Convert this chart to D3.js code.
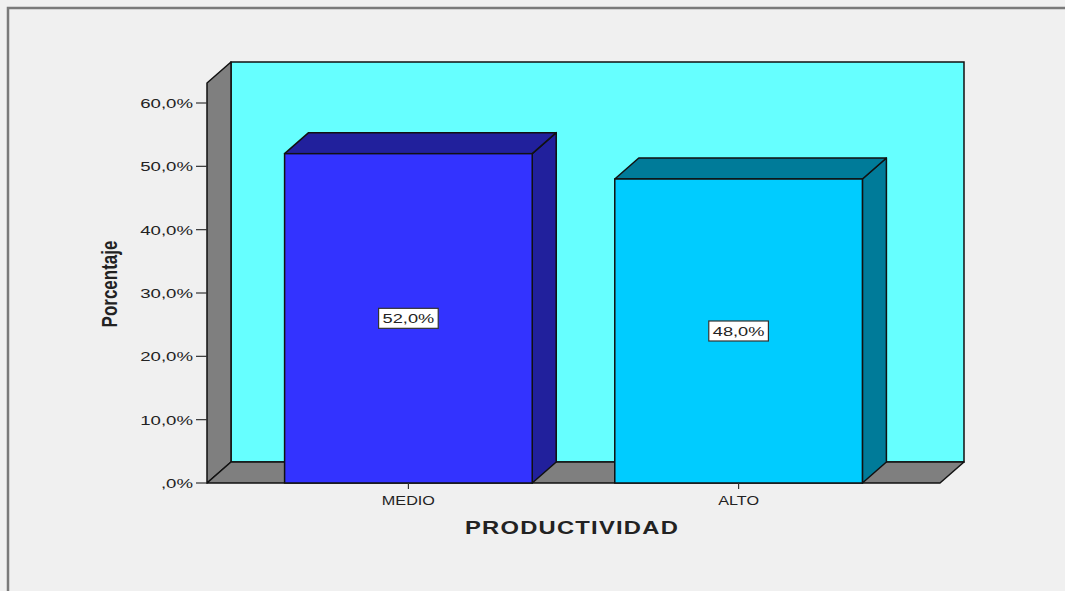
<!DOCTYPE html>
<html>
<head>
<meta charset="utf-8">
<script src="https://cdn.jsdelivr.net/npm/d3@7"></script>
<style>
  html, body { margin: 0; padding: 0; background: #f0f0f0; }
  svg { display: block; }
  text { font-family: "Liberation Sans", Arial, sans-serif; fill: #222; }
</style>
</head>
<body>
<svg id="chart" width="1065" height="591"></svg>
<script>
// Data
const categories = ["MEDIO", "ALTO"];
const percentages = [52.0, 48.0];
const yTicks = [0, 10, 20, 30, 40, 50, 60];
const valueLabels = ["52,0%", "48,0%"];
const tickLabels = [",0%", "10,0%", "20,0%", "30,0%", "40,0%", "50,0%", "60,0%"];

// Colours
const frontColors = ["#3333ff", "#00ccff"];
const sideColors = ["#21209c", "#007b99"];
const wallColor = "#66ffff";
const greyWall = "#7f7f7f";
const edge = "#111";

// Layout
const W = 1065, H = 591;
const x0 = 207, x1 = 940;          // front plane, horizontal extent
const yBase = 483, y60 = 103;      // pixel of 0% and 60%
const wallTop = 83;                // top of the side wall on the front plane
const dx = 24, dy = 21;            // depth offset
const stretch = 1.38;              // horizontal glyph stretch of tick labels

const svg = d3.select("#chart");

svg.append("rect").attr("width", W).attr("height", H).attr("fill", "#f0f0f0");

// frame lines (top and left)
svg.append("path")
  .attr("d", `M8,${H} L8,8 L${W},8`)
  .attr("fill", "none").attr("stroke", "#7a7a7a").attr("stroke-width", 2.5);

const y = d3.scaleLinear().domain([0, 60]).range([yBase, y60]);
const x = d3.scaleBand().domain(categories).range([x0, x1])
  .paddingInner(0.25).paddingOuter(0.235);

const poly = pts => "M" + pts.map(p => p.join(",")).join("L") + "Z";

// back wall
svg.append("rect")
  .attr("x", x0 + dx).attr("y", wallTop - dy)
  .attr("width", x1 - x0).attr("height", yBase - wallTop)
  .attr("fill", wallColor).attr("stroke", edge).attr("stroke-width", 1.5);

// left side wall
svg.append("path")
  .attr("d", poly([[x0, yBase], [x0, wallTop], [x0 + dx, wallTop - dy], [x0 + dx, yBase - dy]]))
  .attr("fill", greyWall).attr("stroke", edge).attr("stroke-width", 1.5)
  .attr("stroke-linejoin", "round");

// floor
svg.append("path")
  .attr("d", poly([[x0, yBase], [x1, yBase], [x1 + dx, yBase - dy], [x0 + dx, yBase - dy]]))
  .attr("fill", greyWall).attr("stroke", edge).attr("stroke-width", 1.5)
  .attr("stroke-linejoin", "round");

// bars
const bars = svg.append("g").selectAll("g").data(categories).join("g");
bars.each(function(c, i) {
  const g = d3.select(this);
  const bx = x(c), bw = x.bandwidth(), top = y(percentages[i]);
  // side
  g.append("path")
    .attr("d", poly([[bx + bw, yBase], [bx + bw, top], [bx + bw + dx, top - dy], [bx + bw + dx, yBase - dy]]))
    .attr("fill", sideColors[i]).attr("stroke", edge).attr("stroke-width", 1.5).attr("stroke-linejoin", "round");
  // top
  g.append("path")
    .attr("d", poly([[bx, top], [bx + dx, top - dy], [bx + bw + dx, top - dy], [bx + bw, top]]))
    .attr("fill", sideColors[i]).attr("stroke", edge).attr("stroke-width", 1.5).attr("stroke-linejoin", "round");
  // front
  g.append("rect")
    .attr("x", bx).attr("y", top).attr("width", bw).attr("height", yBase - top)
    .attr("fill", frontColors[i]).attr("stroke", edge).attr("stroke-width", 1.5);
});

// text with horizontally stretched glyphs
function stretchedText(parent, tx, ty, str, anchor, size, weight, sx) {
  return parent.append("text")
    .attr("transform", `translate(${tx},${ty}) scale(${sx},1)`)
    .attr("text-anchor", anchor)
    .attr("font-size", size)
    .attr("font-weight", weight || "normal")
    .text(str);
}

// value labels inside bars
const labels = svg.append("g");
categories.forEach((c, i) => {
  const cx = x(c) + x.bandwidth() / 2;
  const cy = y(percentages[i] / 2);
  const g = labels.append("g");
  const sx = 1.35;
  const t = stretchedText(g, cx, cy + 5, valueLabels[i], "middle", 13.5, "normal", sx);
  const w = t.node().getComputedTextLength() * sx + 8;
  g.insert("rect", "text")
    .attr("x", cx - w / 2).attr("y", cy - 10)
    .attr("width", w).attr("height", 20)
    .attr("fill", "#fff").attr("stroke", "#333").attr("stroke-width", 1.2);
});

// y axis ticks and labels
const yAxis = svg.append("g");
yTicks.forEach((v, i) => {
  yAxis.append("line")
    .attr("x1", x0 - 11).attr("x2", x0).attr("y1", y(v)).attr("y2", y(v))
    .attr("stroke", "#333").attr("stroke-width", 1.2);
  stretchedText(yAxis, x0 - 14, y(v) + 5, tickLabels[i], "end", 13.5, "normal", stretch);
});

// x axis ticks and labels
const xAxis = svg.append("g");
categories.forEach(c => {
  const cx = x(c) + x.bandwidth() / 2;
  xAxis.append("line")
    .attr("x1", cx).attr("x2", cx).attr("y1", yBase).attr("y2", yBase + 6)
    .attr("stroke", "#333").attr("stroke-width", 1.2);
  stretchedText(xAxis, cx, yBase + 22, c, "middle", 13.5, "normal", 1.2);
});

// axis titles
svg.append("text")
  .attr("transform", `translate(117,284) rotate(-90) scale(1,1.3)`)
  .attr("text-anchor", "middle")
  .attr("font-family", "'Liberation Sans Narrow', 'Liberation Sans', Arial, sans-serif")
  .attr("font-size", 17).attr("font-weight", "bold")
  .text("Porcentaje");

stretchedText(svg, 572, 534, "PRODUCTIVIDAD", "middle", 19, "bold", 1.25)
  .attr("letter-spacing", 1);
</script>
</body>
</html>
